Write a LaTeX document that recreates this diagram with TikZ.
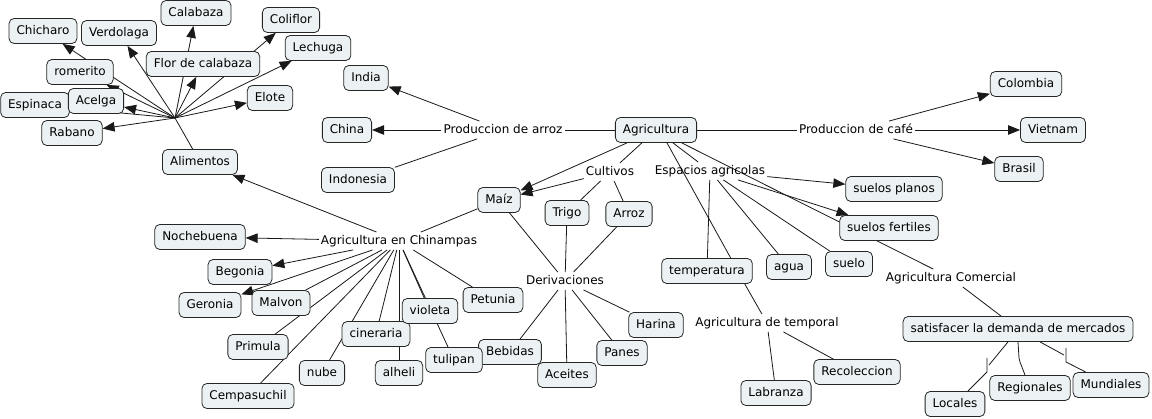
\documentclass[tikz,border=0pt]{standalone}
\usepackage{fontspec}
\setmainfont{DejaVu Sans}
\usetikzlibrary{arrows.meta,backgrounds,calc}
\definecolor{cfill}{RGB}{236,242,244}
\begin{document}
\begin{tikzpicture}[x=1pt,y=-1pt,
  font=\fontsize{12}{14}\selectfont,
  concept/.style={draw=black!85, fill=cfill, rounded corners=5pt, inner xsep=7.5pt, inner ysep=0pt, minimum height=25pt, line width=0.8pt, text height=9pt, text depth=2.5pt},
  lp/.style={inner xsep=2pt, inner ysep=3pt, text height=9pt, text depth=2.5pt},
  con/.style={line width=0.8pt, draw=black!90},
  arr/.style={con, -{Triangle[length=12pt,width=9.5pt]}}]
\useasboundingbox (0,0) rectangle (1152,419);
% top-left cluster
\node[concept] (chicharo) at (43,31) {Chicharo};
\node[concept] (verdolaga) at (119,33) {Verdolaga};
\node[concept] (calabaza) at (196,13) {Calabaza};
\node[concept] (coliflor) at (291,20) {Coliflor};
\node[concept] (lechuga) at (318,48) {Lechuga};
\node[concept] (romerito) at (80,72) {romerito};
\node[concept] (flor) at (203,64) {Flor de calabaza};
\node[concept] (espinaca) at (35,105) {Espinaca};
\node[concept] (acelga) at (96,101) {Acelga};
\node[concept] (elote) at (270,98) {Elote};
\node[concept] (rabano) at (72,133) {Rabano};
\node[concept] (alimentos) at (200,162) {Alimentos};
\coordinate (hub) at (175,118);
% centre
\node[concept] (india) at (366,78) {India};
\node[concept] (china) at (347,130) {China};
\node[concept] (indonesia) at (358,180) {Indonesia};
\node[lp] (arroz) at (503,130) {Produccion de arroz};
\node[concept] (agri) at (656,130) {Agricultura};
\node[lp] (cafe) at (856,130) {Produccion de café};
\node[concept] (colombia) at (1026,84) {Colombia};
\node[concept] (vietnam) at (1053,130) {Vietnam};
\node[concept] (brasil) at (1019,169) {Brasil};
\node[lp] (cultivos) at (610,172) {Cultivos};
\node[lp] (espacios) at (710,171) {Espacios agricolas};
\node[concept] (maiz) at (499,200) {Maíz};
\node[concept] (trigo) at (567,213) {Trigo};
\node[concept] (arrozc) at (629,214) {Arroz};
\node[lp] (deriv) at (565,281) {Derivaciones};
\node[concept] (harina) at (656,325) {Harina};
\node[concept] (panes) at (622,353) {Panes};
\node[concept] (aceites) at (567,375) {Aceites};
\node[concept] (bebidas) at (510,352) {Bebidas};
% right
\node[concept] (planos) at (894,189) {suelos planos};
\node[concept] (fertiles) at (889,228) {suelos fertiles};
\node[concept] (temp) at (707,271) {temperatura};
\node[concept] (agua) at (789,267) {agua};
\node[concept] (suelo) at (849,264) {suelo};
\node[lp] (agtemp) at (767,323) {Agricultura de temporal};
\node[concept] (labranza) at (776,393) {Labranza};
\node[concept] (recoleccion) at (857,372) {Recoleccion};
\node[lp] (agcom) at (951,278) {Agricultura Comercial};
\node[concept] (satis) at (1018,329) {satisfacer la demanda de mercados};
\node[concept] (locales) at (955,404) {Locales};
\node[concept] (regionales) at (1030,388) {Regionales};
\node[concept] (mundiales) at (1111,385) {Mundiales};
% chinampas
\node[lp] (chin) at (399,241) {Agricultura en Chinampas};
\node[concept] (nochebuena) at (200,237) {Nochebuena};
\node[concept] (begonia) at (240,272) {Begonia};
\node[concept] (geronia) at (210,305) {Geronia};
\node[concept] (malvon) at (281,303) {Malvon};
\node[concept] (primula) at (258,347) {Primula};
\node[concept] (cempa) at (248,396) {Cempasuchil};
\node[concept] (nube) at (322,373) {nube};
\node[concept] (cineraria) at (376,334) {cineraria};
\node[concept] (alheli) at (399,373) {alheli};
\node[concept] (violeta) at (430,311) {violeta};
\node[concept] (tulipan) at (454,360) {tulipan};
\node[concept] (petunia) at (493,300) {Petunia};
% gap coordinates (empty linking phrases)
\coordinate (lc0) at (989,365);
\coordinate (lc1) at (987,358);
\coordinate (lc2) at (987,372);
\coordinate (rc1) at (1019,358);
\coordinate (rc2) at (1020,362);
\coordinate (mc0) at (1064,355);
\coordinate (mc1) at (1066,348);
\coordinate (mc2) at (1066,362);
\begin{scope}[on background layer]
\fill[white] (0,0) rectangle (1152,419);
\draw[con] (alimentos) -- (hub);
\foreach \t in {chicharo,verdolaga,calabaza,flor,coliflor,lechuga,elote,acelga,espinaca,romerito,rabano}
  \draw[arr] (hub) -- (\t);
\draw[con] (agri) -- (arroz);
\draw[arr] (arroz) -- (india);
\draw[arr] (arroz) -- (china);
\draw[con] (arroz) -- (indonesia);
\draw[con] (agri) -- (cafe);
\draw[arr] (cafe) -- (colombia);
\draw[arr] (cafe) -- (vietnam);
\draw[arr] (cafe) -- (brasil);
\draw[con] (agri) -- (cultivos);
\draw[arr] (cultivos) -- (maiz);
\draw[arr] (agri) -- (maiz);
\draw[con] (cultivos) -- (trigo);
\draw[con] (cultivos) -- (arrozc);
\draw[con] (agri) -- (espacios);
\draw[arr] (espacios) -- (planos);
\draw[arr] (espacios) -- (fertiles);
\draw[con] (espacios) -- (temp);
\draw[con] (espacios) -- (agua);
\draw[con] (espacios) -- (suelo);
\draw[con] ([xshift=11pt]agri.south) -- ([xshift=-22pt]temp.north east);
\draw[con] (agri) -- (agcom);
\foreach \s in {maiz,trigo,arrozc} \draw[con] (\s) -- (deriv);
\foreach \t in {harina,panes,aceites,bebidas} \draw[con] (deriv) -- (\t);
\draw[con] ([xshift=-8pt]temp.south east) -- (agtemp);
\draw[con] (agtemp) -- (labranza);
\draw[con] (agtemp) -- (recoleccion);
\draw[con] (agcom) -- (satis);
\draw[con] ([xshift=-10pt]satis.south) -- (lc0);
\draw[con] (lc1) -- (lc2) -- (locales);
\draw[con] (satis.south) -- (rc1) -- (rc2) -- (regionales);
\draw[con] ([xshift=22pt]satis.south) -- (mc0);
\draw[con] (mc1) -- (mc2) -- (mundiales);
\draw[con] (maiz) -- (chin);
\draw[arr] (chin) -- (alimentos);
\draw[arr] (chin) -- (nochebuena);
\draw[arr] (chin) -- (begonia);
\draw[arr] (chin) -- (geronia);
\foreach \t in {malvon,primula,cempa,nube,cineraria,alheli,violeta,tulipan,petunia}
  \draw[con] (chin) -- (\t);
\end{scope}
\end{tikzpicture}
\end{document}
